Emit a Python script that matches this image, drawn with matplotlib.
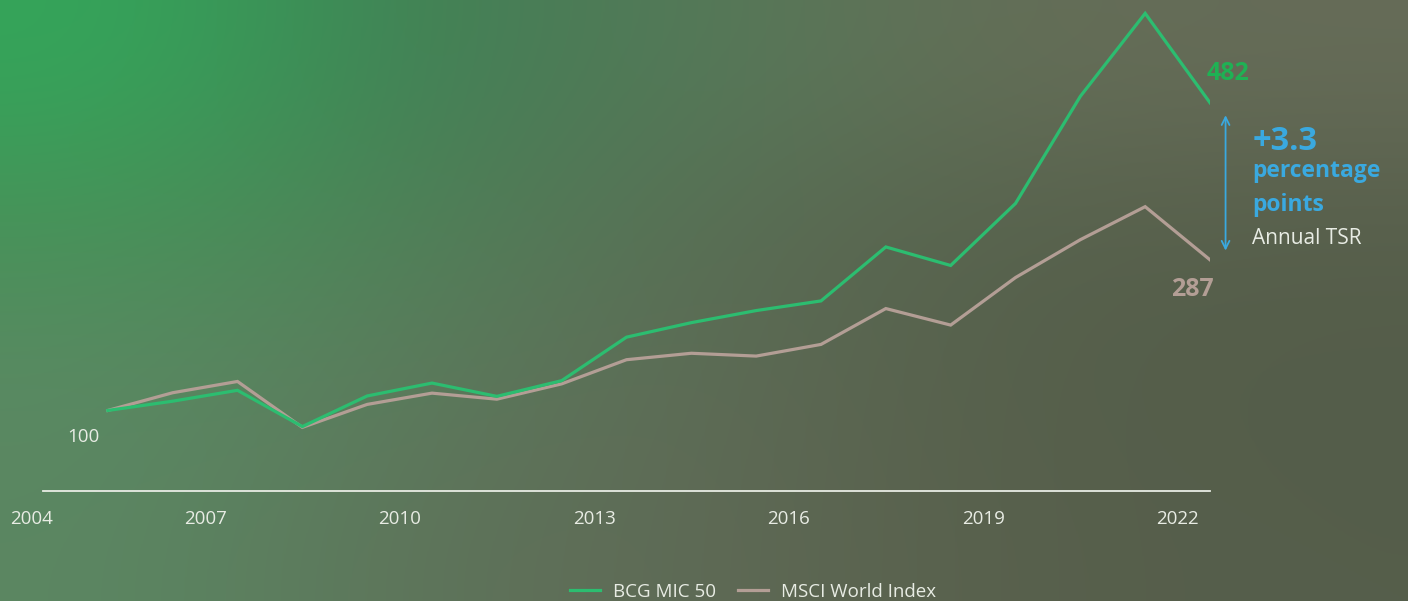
import numpy as np
import matplotlib
matplotlib.use("Agg")
import matplotlib.pyplot as plt
from matplotlib.lines import Line2D
from matplotlib.colors import to_rgb

plt.rcParams['font.family'] = ['Open Sans', 'DejaVu Sans']

# index values (2005 = 100)
years = [2005, 2006, 2007, 2008, 2009, 2010, 2011, 2012, 2013,
         2014, 2015, 2016, 2017, 2018, 2019, 2020, 2021, 2022]
mic50 = [100, 111.5, 125, 80, 118, 134, 117.5, 137, 191,
         209, 224, 236, 303, 280, 357, 490, 593, 482]
msci = [100, 122, 136, 79, 107.5, 121.5, 114, 133, 163,
        171, 167.5, 182, 226.5, 206, 265, 312, 353, 287]
tick_years = [2004, 2007, 2010, 2013, 2016, 2019, 2022]
series_names = ['BCG MIC 50', 'MSCI World Index']
end_labels = ['482', '287']
gap_text = ['+3.3', 'percentage', 'points', 'Annual TSR']

GREEN = '#2cbd70'
BROWN = '#b39e95'
BLUE = '#3aa9e0'
TEXT = '#e8ece4'

fig = plt.figure(figsize=(14.08, 6.01), dpi=100)

# background gradient
bg_grid = [
    ['#34a65a', '#417e54', '#557a59', '#646e57', '#666c58'],
    ['#479258', '#4f8058', '#5a6e55', '#57624d', '#575f4b'],
    ['#5a8a63', '#5b7a5c', '#5e6b56', '#56604b', '#545d4a'],
    ['#5b8762', '#5e735a', '#5f6a56', '#58604c', '#555e4b'],
]
bg = np.array([[to_rgb(c) for c in row] for row in bg_grid])
bax = fig.add_axes([0, 0, 1, 1], zorder=-1)
bax.imshow(bg, aspect='auto', interpolation='bicubic', extent=[0, 1, 0, 1])
bax.set_axis_off()

ax = fig.add_axes([43 / 1408, 110 / 601, 1167 / 1408, 491 / 601])
ax.patch.set_alpha(0)
ax.plot(years, msci, color=BROWN, lw=2.3, solid_joinstyle='miter')
ax.plot(years, mic50, color=GREEN, lw=2.3, solid_joinstyle='miter')
ax.set_xlim(2004, 2022)
ax.set_ylim(0, 609.6)
for s in ['top', 'right', 'left']:
    ax.spines[s].set_visible(False)
ax.spines['bottom'].set_color(TEXT)
ax.spines['bottom'].set_linewidth(1.3)
ax.set_xticks([])
ax.set_yticks([])

# x labels sit half a year before each point
for i, ty in enumerate(tick_years):
    ax.text(ty - 0.5, -24, str(ty), ha='left' if i == 0 else 'center',
            va='top', fontsize=13.5, color=TEXT, clip_on=False)

ax.text(years[0] - 0.37, 67, '100', ha='center', va='center', fontsize=13.5, color=TEXT)
ax.text(years[-1] + 0.28, mic50[-1] + 36, end_labels[0], ha='center', va='center',
        fontsize=18, fontweight='bold', color='#1fb154', clip_on=False)
ax.text(years[-1] - 0.27, msci[-1] - 37, end_labels[1], ha='center', va='center',
        fontsize=18, fontweight='bold', color=BROWN, clip_on=False)

# gap arrow
xa = years[-1] + 0.24
ax.annotate('', xy=(xa, mic50[-1] - 12), xytext=(xa, msci[-1] + 8),
            arrowprops=dict(arrowstyle='<->', color=BLUE, lw=1.3,
                            mutation_scale=14), annotation_clip=False)

tx = years[-1] + 0.65
ax.text(tx, 423, gap_text[0], fontsize=23.5, fontweight='bold', color=BLUE,
        ha='left', va='baseline', clip_on=False)
ax.text(tx, 390, gap_text[1], fontsize=16.5, fontweight='bold', color=BLUE,
        ha='left', va='baseline', clip_on=False)
ax.text(tx, 348, gap_text[2], fontsize=16.5, fontweight='bold', color=BLUE,
        ha='left', va='baseline', clip_on=False)
ax.text(tx, 307, gap_text[3], fontsize=15, color=TEXT,
        ha='left', va='baseline', clip_on=False)

handles = [Line2D([], [], color=GREEN, lw=2.3), Line2D([], [], color=BROWN, lw=2.3)]
leg = fig.legend(handles, series_names, loc='center', ncol=2, frameon=False,
                 bbox_to_anchor=(753 / 1408, 1 - 592 / 601), fontsize=13.5,
                 handlelength=1.6, handletextpad=0.7, columnspacing=1.2)
for t in leg.get_texts():
    t.set_color(TEXT)

fig.savefig('out.png', dpi=100)
